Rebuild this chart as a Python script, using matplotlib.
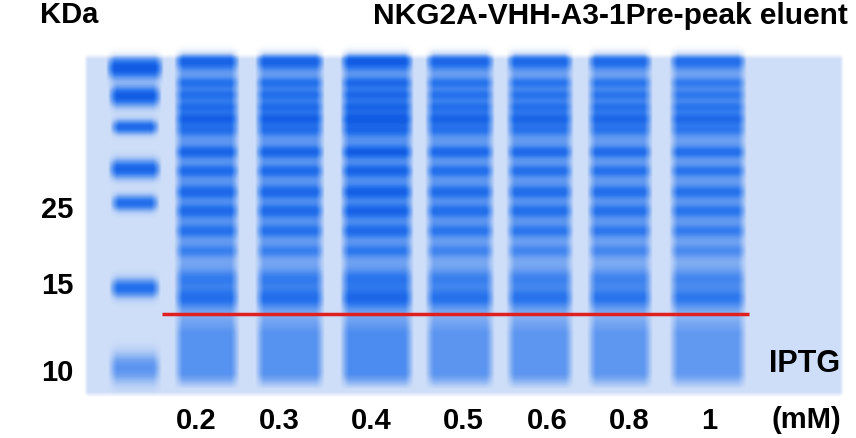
import numpy as np
import matplotlib
matplotlib.use('Agg')
import matplotlib.pyplot as plt
from matplotlib.colors import LinearSegmentedColormap

# ---------------- data ----------------
title = "NKG2A-VHH-A3-1Pre-peak eluent"
unit_label = "KDa"
marker_kda = ["25", "15", "10"]
marker_label_y = [210, 286, 373]

ladder_x = 135
ladder_band_y = [69, 97, 128, 170, 204, 289, 369]
ladder_band_int = [1.05, 1.0, 0.85, 0.9, 0.8, 0.8, 0.45]
ladder_band_sig = [7.0, 6.5, 4.5, 6.0, 5.0, 6.0, 10.0]
ladder_band_hw = [29, 27, 25, 27, 25, 26, 27]

iptg_mM = ["0.2", "0.3", "0.4", "0.5", "0.6", "0.8", "1"]
lane_x = [207, 290, 377, 460, 540, 620, 708]
lane_hw = [33, 35, 37, 35, 34, 33, 39]
lane_strength = [0.95, 0.95, 1.05, 0.9, 0.88, 0.86, 0.82]
label_x = [196, 279, 371, 463, 547, 629, 709]

sample_band_y = [62, 84, 96, 108, 120, 131, 153, 172, 193, 212, 232, 252, 280, 299]
sample_band_int = [0.85, 0.45, 0.42, 0.42, 0.58, 0.38, 0.52, 0.45, 0.48, 0.45, 0.4, 0.32, 0.4, 0.55]
sample_band_sig = [5.5, 4, 4, 4, 4.5, 4, 4, 4, 4.5, 4.5, 4.5, 4.5, 7, 7]
upper_base = (57, 270, 0.44)
lower_base = (57, 390, 0.28)
smear = (318, 390, 0.22)
target_band_y = 315
target_x = (162, 749)

# ---------------- figure ----------------
W, H = 856, 439
fig = plt.figure(figsize=(W / 100, H / 100), dpi=100)
ax = fig.add_axes([0, 0, 1, 1])
ax.set_xlim(0, W)
ax.set_ylim(H, 0)
ax.axis('off')

xs = np.arange(W) + 0.5
ys = np.arange(H) + 0.5
X, Y = np.meshgrid(xs, ys)

def soft(v, lo, hi, e):
    return np.clip((v - lo) / e, 0, 1) * np.clip((hi - v) / e, 0, 1)

gel = soft(X, 84, 844, 4) * soft(Y, 55, 398, 5)
t = 0.2 * gel

# ladder
for yb, a, s, hw in zip(ladder_band_y, ladder_band_int, ladder_band_sig, ladder_band_hw):
    xprof = soft(X, ladder_x - hw, ladder_x + hw, 9)
    t += 0.8 * a * xprof * np.exp(-0.5 * ((Y - yb) / s) ** 2)

# sample lanes
for cx, hw, st in zip(lane_x, lane_hw, lane_strength):
    xprof = soft(X, cx - hw, cx + hw, 9)
    c = (upper_base[2] - lower_base[2]) * soft(Y, upper_base[0], upper_base[1], 50) \
        + lower_base[2] * soft(Y, lower_base[0], lower_base[1], 14)
    c = c + smear[2] * soft(Y, smear[0], smear[1], 16)
    for yb, a, s in zip(sample_band_y, sample_band_int, sample_band_sig):
        c = c + a * np.exp(-0.5 * ((Y - yb) / s) ** 2)
    t += 0.8 * st * xprof * c

t = np.clip(t, 0, 1)
cmap = LinearSegmentedColormap.from_list(
    "coomassie",
    [(0.0, (1, 1, 1)),
     (0.2, (206 / 255, 222 / 255, 248 / 255)),
     (0.45, (118 / 255, 166 / 255, 242 / 255)),
     (0.75, (45 / 255, 120 / 255, 238 / 255)),
     (1.0, (18 / 255, 92 / 255, 228 / 255))])
ax.imshow(t, cmap=cmap, vmin=0, vmax=1, extent=(0, W, H, 0),
          interpolation='bilinear', aspect='auto')

# red target line
ax.plot(target_x, [target_band_y, target_band_y], color='#e02020', lw=2.5,
        solid_capstyle='butt')

font = dict(family=['Liberation Sans', 'DejaVu Sans'], fontweight='bold', color='black')
ax.text(40, 15, unit_label, fontsize=21, ha='left', va='center', **font)
ax.text(848, 16, title, fontsize=21.5, ha='right', va='center', **font)
for lab, y in zip(marker_kda, marker_label_y):
    ax.text(57, y, lab, fontsize=21, ha='center', va='center', **font)
for lab, x in zip(iptg_mM, label_x):
    ax.text(x, 421, lab, fontsize=21, ha='center', va='center', **font)
ax.text(805, 364, "IPTG", fontsize=22, ha='center', va='center', **font)
ax.text(806, 420, "(mM)", fontsize=21, ha='center', va='center', **font)

fig.savefig("out.png", dpi=100)
